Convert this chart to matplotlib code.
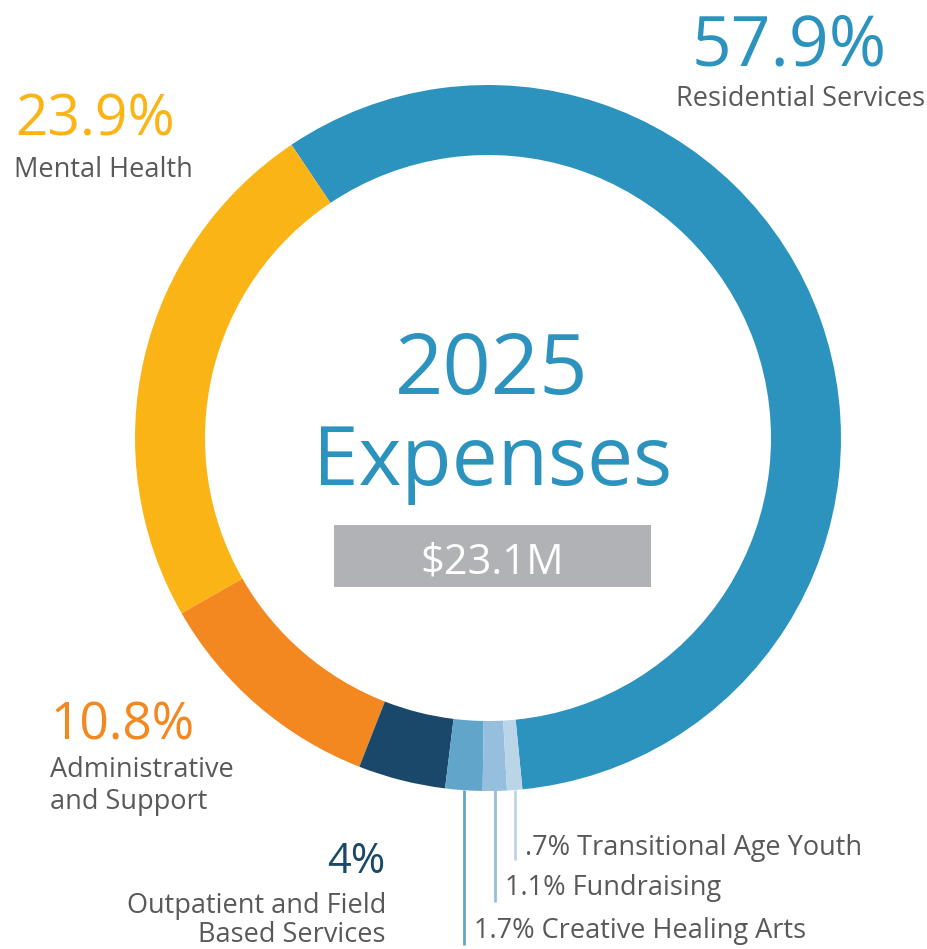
import numpy as np
import matplotlib.pyplot as plt
from matplotlib.patches import Rectangle

# data
categories = ["Residential Services", "Mental Health", "Administrative\nand Support",
              "Outpatient and Field\nBased Services", "Creative Healing Arts",
              "Fundraising", "Transitional Age Youth"]
shares = [57.9, 23.9, 10.8, 4.0, 1.7, 1.1, 0.7]
share_labels = ["57.9%", "23.9%", "10.8%", "4%", "1.7%", "1.1%", ".7%"]
colors = ["#2B93BE", "#FBB416", "#F38821", "#1A486A", "#62A5CA", "#95BFDC", "#BAD5E8"]
title_year = "2025"
title_word = "Expenses"
total_label = "$23.1M"

W, H = 928, 949
TEXT_GRAY = "#58595B"
FONT = "Open Sans"


def Y(y):
    # pixel row (from top) -> data y
    return H - y


fig = plt.figure(figsize=(W / 100, H / 100), dpi=100)
ax = fig.add_axes([0, 0, 1, 1])

cx, cy, R, ring = 488, Y(438), 353, 70
wedges, _ = ax.pie(shares, colors=colors, startangle=275.6, counterclock=True,
                   radius=R, center=(cx, cy),
                   wedgeprops=dict(width=ring, edgecolor="none", linewidth=0))

ax.set_xlim(0, W)
ax.set_ylim(0, H)
ax.set_aspect("equal")
ax.axis("off")

# big callouts
def callout(pct, pct_xy, pct_size, lines, line_x, baselines, color, ha):
    ax.text(pct_xy[0], Y(pct_xy[1]), pct, fontsize=pct_size, color=color, ha=ha,
            va="baseline", family=FONT)
    for line, b in zip(lines, baselines):
        ax.text(line_x, Y(b), line, fontsize=19.5, color=TEXT_GRAY, ha=ha,
                va="baseline", family=FONT)

callout(share_labels[0], (887, 65), 50, categories[0].split("\n"), 925, [106], colors[0], "right")
callout(share_labels[1], (15, 135), 41, categories[1].split("\n"), 14, [177], colors[1], "left")
callout(share_labels[2], (50, 740), 37, categories[2].split("\n"), 50, [777, 809], colors[2], "left")
callout(share_labels[3], (385, 873), 30, categories[3].split("\n"), 386, [913, 942], colors[3], "right")

# leader lines for the small slices
line_ends = [945, 902, 860]
text_base = [938, 895, 855]
for i, end, base in zip(range(4, 7), line_ends, text_base):
    w = wedges[i]
    mid = np.deg2rad((w.theta1 + w.theta2) / 2)
    lx = cx + R * np.cos(mid)
    ax.plot([lx, lx], [Y(790), Y(end)], color=colors[i], lw=2, solid_capstyle="butt")
    ax.text(lx + 10, Y(base), f"{share_labels[i]} {categories[i]}", fontsize=19.5,
            color=TEXT_GRAY, ha="left", va="baseline", family=FONT)

# center title
ax.text(492, Y(394), title_year, fontsize=61, color=colors[0], ha="center",
        va="baseline", family=FONT)
ax.text(493, Y(485), title_word, fontsize=59, color=colors[0], ha="center",
        va="baseline", family=FONT)
ax.add_patch(Rectangle((334, Y(587)), 317, 62, color="#B1B2B5", lw=0))
ax.text(492, Y(573), total_label, fontsize=30, color="white", ha="center",
        va="baseline", family=FONT)

fig.savefig("out.png", dpi=100)
